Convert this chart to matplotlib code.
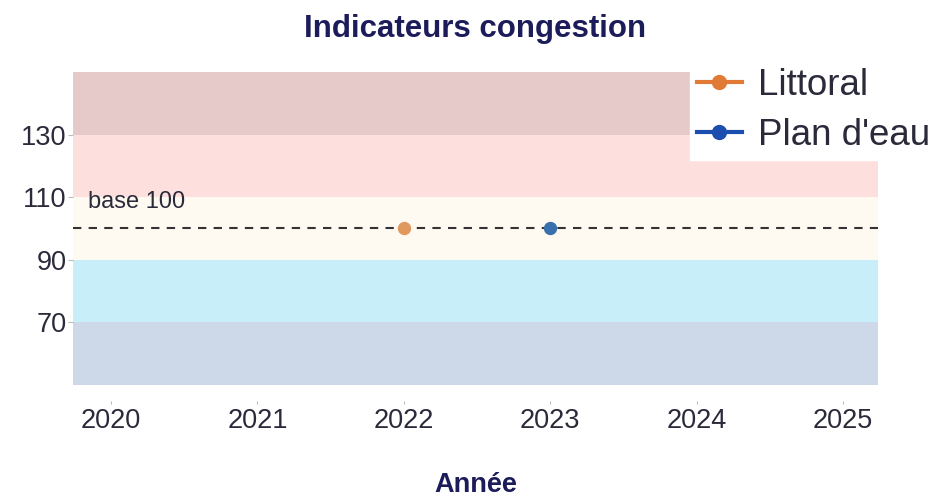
import matplotlib.pyplot as plt
from matplotlib.lines import Line2D

# Données
years = [2020, 2021, 2022, 2023, 2024, 2025]
series_names = ["Littoral", "Plan d'eau"]
series_years = [[2022], [2023]]
series_values = [[100], [100]]
series_colors = ["#e0985f", "#3a6fae"]
legend_colors = ["#e07a35", "#1a4fb0"]

band_edges = [50, 70, 90, 110, 130, 150]
band_colors = ["#cdd9e8", "#c8eefa", "#fefaf2", "#fde0de", "#e6c9c9"]
y_ticks = [70, 90, 110, 130]
base_value = 100

navy = "#1c1c5a"
text_col = "#2a2a3a"

plt.rcParams['font.family'] = ['Liberation Sans', 'DejaVu Sans']

fig = plt.figure(figsize=(9.41, 4.98), dpi=100)
ax = fig.add_axes([73 / 941, 1 - 400.7 / 498, 805 / 941, 344.4 / 498])

for i, col in enumerate(band_colors):
    ax.axhspan(band_edges[i], band_edges[i + 1], color=col, lw=0, zorder=0)

ax.axhline(base_value, color="#333333", ls=(0, (4, 3.5)), lw=1.5, zorder=1)
ax.text(2019.843, 106.5, "base 100", fontsize=17, color=text_col,
        va="baseline", ha="left")

for xs, vs, c in zip(series_years, series_values, series_colors):
    ax.plot(xs, vs, "o", color=c, ms=8.6, zorder=3)

ax.set_xlim(2019.74, 2025.24)
ax.set_ylim(45, 155)
ax.set_xticks(years)
ax.set_yticks(y_ticks)
ax.tick_params(axis="both", labelsize=19.5, labelcolor=text_col, color="#bbbbbb",
               width=0.8)
ax.tick_params(axis="x", length=2.5, pad=3)
ax.tick_params(axis="y", length=3.5, pad=1)
for s in ax.spines.values():
    s.set_visible(False)

fig.text(475.5 / 941, 1 - 37 / 498, "Indicateurs congestion", fontsize=22.5,
         fontweight="bold", color=navy, ha="center", va="baseline")
fig.text(475.5 / 941, 1 - 492 / 498, "Année", fontsize=19.5,
         fontweight="bold", color=navy, ha="center", va="baseline")

handles = [Line2D([0], [0], color=c, marker="o", ms=10, lw=3) for c in legend_colors]
leg = fig.legend(handles, series_names, loc="upper left",
                 bbox_to_anchor=(690 / 941, 1 - 61 / 498), fontsize=26.5,
                 frameon=True, facecolor="white", edgecolor="white", framealpha=1,
                 fancybox=False, handlelength=1.2, handletextpad=0.45,
                 labelspacing=0.4, borderpad=0.2, borderaxespad=0)
for t in leg.get_texts():
    t.set_color(text_col)

fig.savefig("out.png", dpi=100)
